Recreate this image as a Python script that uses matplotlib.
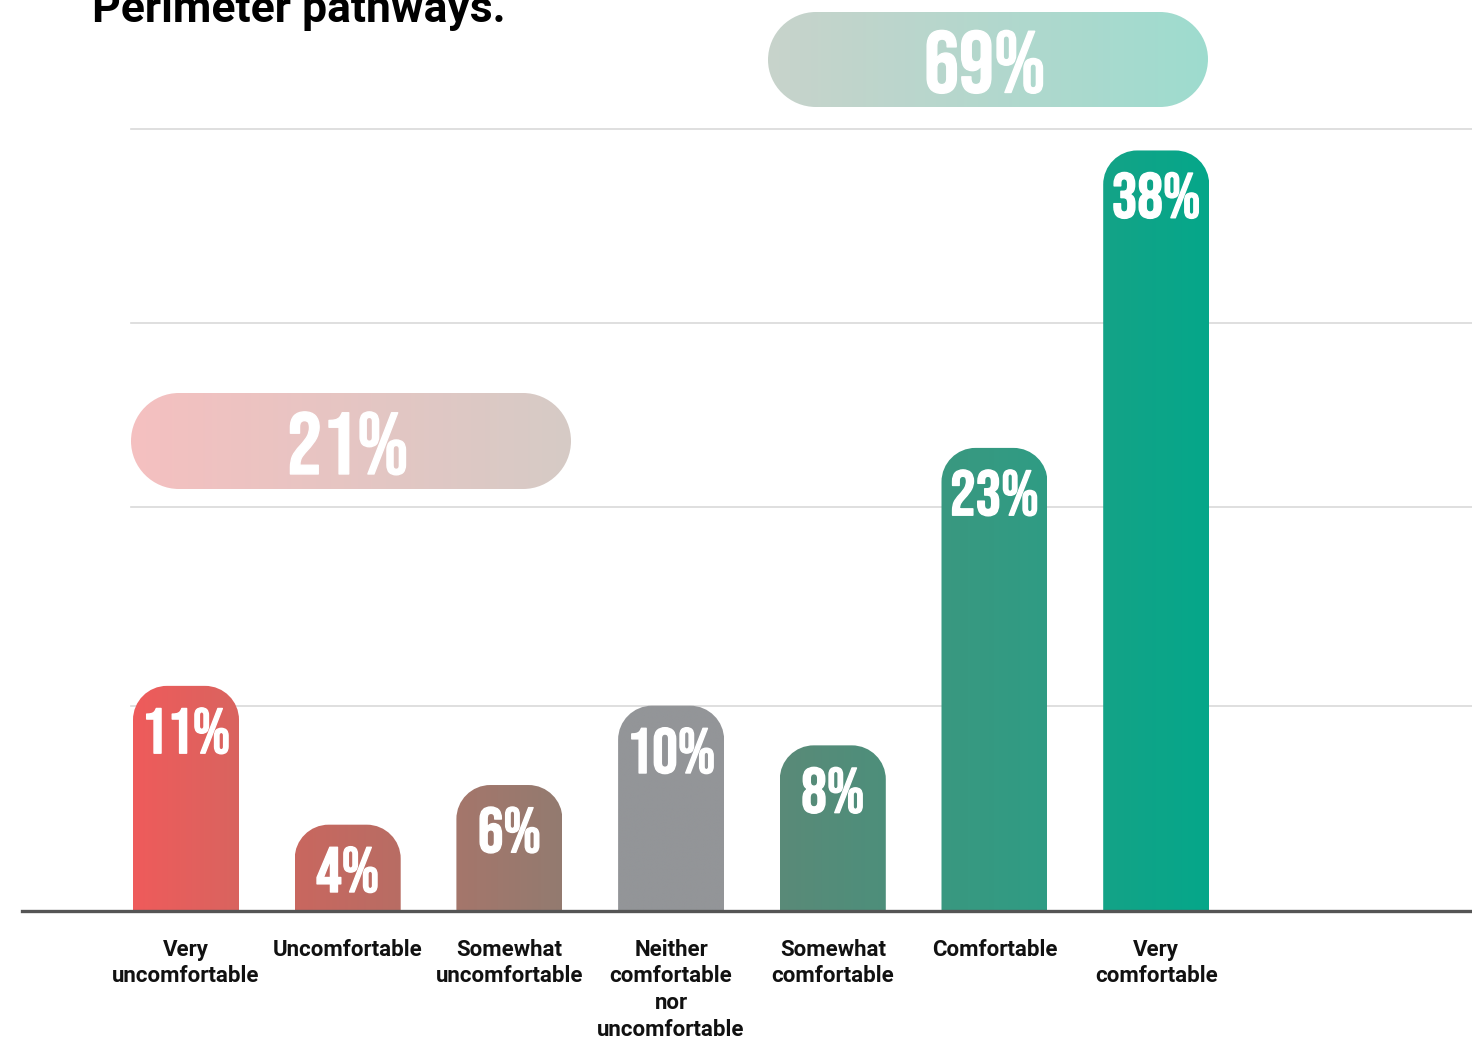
import numpy as np
import matplotlib
matplotlib.use("Agg")
import matplotlib.pyplot as plt
from matplotlib.path import Path
from matplotlib.patches import PathPatch
from matplotlib.colors import LinearSegmentedColormap
import matplotlib.patheffects as pe

# data
categories = ["Very\nuncomfortable", "Uncomfortable", "Somewhat\nuncomfortable",
              "Neither\ncomfortable\nnor\nuncomfortable", "Somewhat\ncomfortable",
              "Comfortable", "Very\ncomfortable"]
values = [11, 4, 6, 10, 8, 23, 38]
value_labels = ["11%", "4%", "6%", "10%", "8%", "23%", "38%"]
group_labels = ["21%", "69%"]
gridlines = [10, 20, 29.3, 39.1]

# gradient colours (left, right) for each bar
bar_colors = [("#ef5b5b", "#d9645f"), ("#c9675f", "#b86d64"), ("#a5766b", "#937b70"),
              ("#939598", "#939598"), ("#5a8a78", "#4d8f7b"), ("#3a9880", "#2f9c84"),
              ("#14a387", "#05a78a")]
pill_colors = [("#f5c0c0", "#d6cbc6"), ("#c8d3cb", "#9edccf")]

NUM_FONT = ["Bebas Neue", "Oswald", "DejaVu Sans"]
TXT_FONT = ["Roboto", "DejaVu Sans"]

W, H = 1472, 1041
fig = plt.figure(figsize=(W / 100, H / 100), dpi=100)

px_x = 161.7      # pixels per bar slot
px_y = 19.83      # pixels per percent
x0_px = 186       # centre of first bar
base_px = 911     # baseline (from top)
off_px = 7        # bars start this far below value 0
ax_left = 22
ax = fig.add_axes([ax_left / W, (H - base_px) / H, 1 - ax_left / W, base_px / H])
ybot = -off_px / px_y
ax.set_xlim(-(x0_px - ax_left) / px_x, (W - x0_px) / px_x)
ax.set_ylim(ybot, ybot + base_px / px_y)
ax.axis("off")

rx = 34 / px_x
ry = 34 / px_y
k = 0.5523


def round_top(x0, x1, y0, y1, rx, ry):
    verts = [(x0, y0), (x0, y1 - ry),
             (x0, y1 - ry + k * ry), (x0 + rx - k * rx, y1), (x0 + rx, y1),
             (x1 - rx, y1),
             (x1 - rx + k * rx, y1), (x1, y1 - ry + k * ry), (x1, y1 - ry),
             (x1, y0), (x0, y0)]
    codes = [Path.MOVETO, Path.LINETO,
             Path.CURVE4, Path.CURVE4, Path.CURVE4,
             Path.LINETO,
             Path.CURVE4, Path.CURVE4, Path.CURVE4,
             Path.LINETO, Path.CLOSEPOLY]
    return Path(verts, codes)


def pill(x0, x1, y0, y1, rx, ry):
    verts = [(x0 + rx, y0), (x1 - rx, y0),
             (x1 - rx + k * rx, y0), (x1, y0 + ry - k * ry), (x1, y0 + ry),
             (x1, y1 - ry + k * ry), (x1 - rx + k * rx, y1), (x1 - rx, y1),
             (x0 + rx, y1),
             (x0 + rx - k * rx, y1), (x0, y1 - ry + k * ry), (x0, y1 - ry),
             (x0, y0 + ry - k * ry), (x0 + rx - k * rx, y0), (x0 + rx, y0),
             (x0 + rx, y0)]
    codes = [Path.MOVETO, Path.LINETO,
             Path.CURVE4, Path.CURVE4, Path.CURVE4,
             Path.CURVE4, Path.CURVE4, Path.CURVE4,
             Path.LINETO,
             Path.CURVE4, Path.CURVE4, Path.CURVE4,
             Path.CURVE4, Path.CURVE4, Path.CURVE4,
             Path.CLOSEPOLY]
    return Path(verts, codes)


def grad_fill(path, x0, x1, y0, y1, c0, c1):
    patch = PathPatch(path, facecolor="none", edgecolor="none")
    ax.add_patch(patch)
    cmap = LinearSegmentedColormap.from_list("g", [c0, c1])
    im = ax.imshow(np.linspace(0, 1, 256)[None, :], cmap=cmap, aspect="auto",
                   extent=[x0, x1, y0, y1], interpolation="bilinear", zorder=2)
    im.set_clip_path(patch)


for g in gridlines:
    ax.plot([(131 - x0_px) / px_x, ax.get_xlim()[1]], [g, g], color="#d9d9d9", lw=1.2, zorder=1)

thick = [pe.withStroke(linewidth=1.0, foreground="white")]
bw = 106 / px_x
for i, v in enumerate(values):
    x0, x1 = i - bw / 2, i + bw / 2
    grad_fill(round_top(x0, x1, ybot, v, rx, ry), x0, x1, ybot, v, *bar_colors[i])
    ax.text(i, v - 1.1, value_labels[i], ha="center", va="top", color="white",
            fontsize=46, family=NUM_FONT, zorder=3, path_effects=thick)
    ax.text(i, ybot - 1.4, categories[i], ha="center", va="top", fontsize=16,
            fontweight="bold", family=TXT_FONT, color="#111111",
            linespacing=1.27, clip_on=False)

ax.axhline(ybot, color="#555555", lw=2.4, zorder=4, clip_on=False)

# group pills
pill_px = [(131, 571, 393, 489), (768, 1208, 12, 107)]
for j, lab in enumerate(group_labels):
    l, r, t, b = pill_px[j]
    x0, x1 = (l - x0_px) / px_x, (r - x0_px) / px_x
    y0, y1 = ybot + (base_px - b) / px_y, ybot + (base_px - t) / px_y
    prx, pry = 48 / px_x, 48 / px_y
    grad_fill(pill(x0, x1, y0, y1, prx, pry), x0, x1, y0, y1, *pill_colors[j])
    ax.text((x0 + x1) / 2 - 0.02, (y0 + y1) / 2 - 0.1, lab, ha="center", va="center",
            color="white", fontsize=63, family=NUM_FONT, zorder=3, path_effects=thick)

fig.text(92 / W, (H - 22) / H, "Perimeter pathways.", fontsize=32, fontweight="bold",
         family=TXT_FONT, va="baseline", ha="left")

fig.savefig("out.png", dpi=100)
